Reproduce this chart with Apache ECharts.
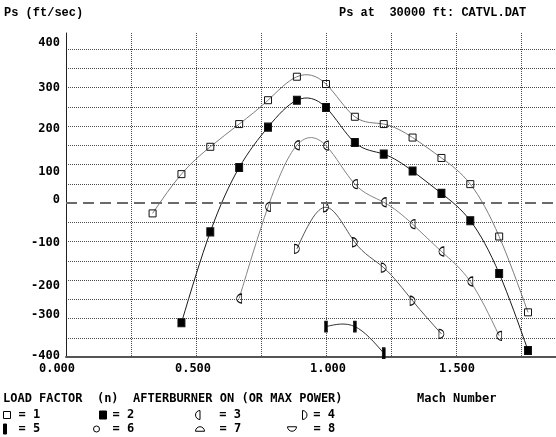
<!DOCTYPE html>
<html>
<head>
<meta charset="utf-8">
<script src="https://cdn.jsdelivr.net/npm/echarts@6/dist/echarts.min.js"></script>
<style>
  html, body { margin: 0; padding: 0; background: #fff; }
  #chart { width: 556px; height: 437px; }
</style>
</head>
<body>
<div id="chart"></div>
<script>
// Specific excess power (Ps) against Mach number, one curve per load factor n.
const loadFactors = ['1', '2', '3', '4', '5', '6', '7', '8'];

const machN1 = [0.333, 0.444, 0.555, 0.666, 0.777, 0.888, 1.000, 1.111, 1.222, 1.333, 1.444, 1.555, 1.666, 1.777];
const psN1   = [-27, 75, 146, 205, 267, 328, 309, 224, 205, 170, 117, 49, -87, -284];

const machN2 = [0.444, 0.555, 0.666, 0.777, 0.888, 1.000, 1.111, 1.222, 1.333, 1.444, 1.555, 1.666, 1.777];
const psN2   = [-311, -75, 92, 197, 267, 248, 157, 127, 83, 25, -46, -183, -383];

const machN3 = [0.666, 0.777, 0.888, 1.000, 1.111, 1.222, 1.333, 1.444, 1.555, 1.666];
const psN3   = [-248, -10, 150, 149, 49, 2, -55, -126, -204, -345];

const machN4 = [0.888, 1.000, 1.111, 1.222, 1.333, 1.444];
const psN4   = [-119, -11, -102, -168, -254, -340];

const machN5 = [1.000, 1.111, 1.222];
const psN5   = [-321, -321, -390];

// n = 6, 7, 8 have no attainable points in this envelope
const machEmpty = [];
const psEmpty = [];

const yLabelValues = [-400, -300, -200, -100, 0, 100, 200, 300, 400];
const xLabelValues = [0, 0.5, 1.0, 1.5];

const curves = [
  [machN1, psN1], [machN2, psN2], [machN3, psN3], [machN4, psN4],
  [machN5, psN5], [machEmpty, psEmpty], [machEmpty, psEmpty], [machEmpty, psEmpty]
];

const MONO = '"DejaVu Sans Mono", monospace';
const TYPE = '"Liberation Mono", "Courier New", monospace';
const HOLLOW = 'rgba(255,255,255,0)';

// marker look per load factor
const markStyle = {
  '1': { symbol: 'rect', size: [7, 7], fill: HOLLOW, line: '#7c7c7c' },
  '2': { symbol: 'rect', size: [7, 8], fill: '#000', line: '#1c1c1c' },
  '3': { symbol: 'path://M5,0 A5,5 0 0 0 5,10 Z', size: [5, 9], fill: HOLLOW, line: '#858585' },
  '4': { symbol: 'path://M0,0 A5,5 0 0 1 0,10 Z', size: [5, 9], fill: HOLLOW, line: '#555' },
  '5': { symbol: 'rect', size: [3, 10], fill: '#000', line: '#333' },
  '6': { symbol: 'circle', size: [6, 6], fill: HOLLOW, line: '#555' },
  '7': { symbol: 'path://M0,5 A5,5 0 0 1 10,5 Z', size: [9, 5], fill: HOLLOW, line: '#555' },
  '8': { symbol: 'path://M0,0 A5,5 0 0 0 10,0 Z', size: [9, 5], fill: HOLLOW, line: '#555' }
};

// legend key placement: icon left edge, row top, text start
const legendSpot = {
  '1': { x: 3, top: 409, textX: 18 },
  '2': { x: 99, top: 409, textX: 112 },
  '3': { x: 195, top: 409, textX: 219 },
  '4': { x: 302, top: 409, textX: 313 },
  '5': { x: 3, top: 423, textX: 18 },
  '6': { x: 93, top: 423, textX: 112 },
  '7': { x: 195, top: 423, textX: 219 },
  '8': { x: 287, top: 423, textX: 313 }
};

// text-row snapping of the tick labels (pixels, + = down / right)
const yLabelNudge = { '400': -6, '300': 0, '200': 3, '100': 7, '0': -3, '-100': 1, '-200': 6, '-300': -4, '-400': -1 };
const xLabelNudge = { '0': -9, '0.5': -3, '1': 2, '1.5': 1 };

function vPad(s) { return s > 0 ? [2 * s, 0, 0, 0] : [0, 0, -2 * s, 0]; }
function hPad(s) { return s > 0 ? [0, 0, 0, 2 * s] : [0, -2 * s, 0, 0]; }

const yRich = {};
yLabelValues.forEach((v, i) => {
  yRich['y' + i] = { padding: vPad(yLabelNudge[String(v)] || 0) };
});
const xRich = {};
xLabelValues.forEach((v, i) => {
  xRich['x' + i] = { padding: hPad(xLabelNudge[String(v)] || 0) };
});

// dotted horizontal grid, with the zero line left to the dashed reference
const hGridColors = [];
for (let v = -400; v <= 400; v += 50) hGridColors.push(v === 0 ? 'rgba(0,0,0,0)' : '#4a4a4a');

// Natural cubic spline through screen points (x increasing), as an SVG path of Bezier pieces
function splinePath(pts) {
  const n = pts.length;
  if (n < 2) return '';
  const x = pts.map(p => p[0]);
  const y = pts.map(p => p[1]);
  if (n === 2) return 'M' + x[0] + ',' + y[0] + 'L' + x[1] + ',' + y[1];
  const h = [];
  for (let i = 0; i < n - 1; i++) h.push(x[i + 1] - x[i]);
  // tridiagonal system for second derivatives, natural ends
  const M = new Array(n).fill(0);
  const a = [], b = [], c = [], d = [];
  for (let i = 1; i < n - 1; i++) {
    a.push(h[i - 1]);
    b.push(2 * (h[i - 1] + h[i]));
    c.push(h[i]);
    d.push(6 * ((y[i + 1] - y[i]) / h[i] - (y[i] - y[i - 1]) / h[i - 1]));
  }
  const m = a.length;
  for (let i = 1; i < m; i++) {
    const w = a[i] / b[i - 1];
    b[i] -= w * c[i - 1];
    d[i] -= w * d[i - 1];
  }
  const sol = new Array(m);
  sol[m - 1] = d[m - 1] / b[m - 1];
  for (let i = m - 2; i >= 0; i--) sol[i] = (d[i] - c[i] * sol[i + 1]) / b[i];
  for (let i = 0; i < m; i++) M[i + 1] = sol[i];
  const slope = new Array(n);
  for (let i = 0; i < n - 1; i++) {
    slope[i] = (y[i + 1] - y[i]) / h[i] - h[i] * (2 * M[i] + M[i + 1]) / 6;
  }
  slope[n - 1] = (y[n - 1] - y[n - 2]) / h[n - 2] + h[n - 2] * (M[n - 2] + 2 * M[n - 1]) / 6;
  let path = 'M' + x[0] + ',' + y[0];
  for (let i = 0; i < n - 1; i++) {
    const t = h[i] / 3;
    path += 'C' + (x[i] + t) + ',' + (y[i] + slope[i] * t) + ',' +
            (x[i + 1] - t) + ',' + (y[i + 1] - slope[i + 1] * t) + ',' +
            x[i + 1] + ',' + y[i + 1];
  }
  return path;
}

const labelFont = { fontFamily: MONO, fontWeight: 'bold', fontSize: 12, color: '#000' };

const chart = echarts.init(document.getElementById('chart'), null, { renderer: 'canvas' });

// smooth curve through every point of a load-factor series
function curveSeries(i) {
  const [mach, ps] = curves[i];
  const m = markStyle[loadFactors[i]];
  return {
    type: 'custom', name: 'curve ' + loadFactors[i],
    xAxisIndex: 1, yAxisIndex: 1, silent: true, z: 2,
    data: mach.map((x, k) => [x, ps[k]]),
    renderItem: (params, api) => {
      if (params.dataIndex !== 0) return null;
      const pts = mach.map((x, k) => api.coord([x, ps[k]]));
      return {
        type: 'path',
        shape: { pathData: splinePath(pts) },
        style: { fill: 'none', stroke: m.line, lineWidth: 1 }
      };
    }
  };
}

const option = {
  animation: false,
  backgroundColor: '#fff',
  title: [
    { text: 'Ps (ft/sec)', left: 4, top: 7, padding: 0,
      textStyle: { fontFamily: TYPE, fontWeight: 'bold', fontSize: 12, color: '#000' } },
    { text: 'Ps at  30000 ft: CATVL.DAT', left: 339, top: 7, padding: 0,
      textStyle: { fontFamily: TYPE, fontWeight: 'bold', fontSize: 12, color: '#000' } },
    { text: 'LOAD FACTOR  (n)  AFTERBURNER ON (OR MAX POWER)', left: 3, top: 393, padding: 0,
      textStyle: labelFont },
    { text: 'Mach Number', left: 417, top: 393, padding: 0, textStyle: labelFont }
  ],
  grid: [
    // frame for the vertical grid and the Ps axis line (reaches above the 400 line)
    { left: 66, top: 33, width: 520, height: 324, outerBoundsMode: 'none', containLabel: false },
    // data area, Ps from -400 to 400
    { left: 66, top: 49, width: 520, height: 308, outerBoundsMode: 'none', containLabel: false }
  ],
  xAxis: [
    { gridIndex: 0, type: 'value', min: 0, max: 2, interval: 0.25,
      axisLine: { show: false }, axisTick: { show: false }, axisLabel: { show: false },
      splitLine: { show: true, lineStyle: { color: '#4a4a4a', width: 1, type: [1, 1] } } },
    { gridIndex: 1, type: 'value', min: 0, max: 2, interval: 0.25,
      axisLine: { show: true, onZero: false, lineStyle: { color: '#555', width: 2 } },
      axisTick: { show: false }, splitLine: { show: false },
      axisLabel: {
        show: true, margin: 6, ...labelFont,
        formatter: v => {
          const i = xLabelValues.findIndex(t => Math.abs(t - v) < 1e-9);
          return i < 0 ? '' : '{x' + i + '|' + v.toFixed(3) + '}';
        },
        rich: xRich
      } }
  ],
  yAxis: [
    { gridIndex: 0, type: 'value', min: 0, max: 1,
      axisLine: { show: true, lineStyle: { color: '#222', width: 1 } },
      axisTick: { show: false }, axisLabel: { show: false }, splitLine: { show: false } },
    { gridIndex: 1, type: 'value', min: -400, max: 400, interval: 50,
      axisLine: { show: false }, axisTick: { show: false },
      splitLine: { show: true, lineStyle: { color: hGridColors, width: 1, type: [1, 1] } },
      axisLabel: {
        show: true, margin: 6, ...labelFont,
        formatter: v => {
          const i = yLabelValues.indexOf(v);
          return i < 0 ? '' : '{y' + i + '|' + v + '}';
        },
        rich: yRich
      } }
  ],
  legend: loadFactors.map(n => {
    const m = markStyle[n];
    const s = legendSpot[n];
    const pad = s.textX - (s.x + m.size[0] + 5);
    return {
      data: [n], left: s.x, top: s.top, padding: 0,
      selectedMode: false, icon: m.symbol,
      itemWidth: m.size[0], itemHeight: m.size[1],
      itemStyle: { color: m.fill, borderColor: '#000', borderWidth: 1 },
      formatter: '{t|= {name}}',
      textStyle: { ...labelFont, rich: { t: { ...labelFont, padding: [0, 0, 0, pad] } } }
    };
  }),
  series: [
    ...loadFactors.map((n, i) => curveSeries(i)),
    ...loadFactors.map((n, i) => {
      const m = markStyle[n];
      const [mach, ps] = curves[i];
      const s = {
        type: 'line', name: n, xAxisIndex: 1, yAxisIndex: 1,
        data: mach.map((x, k) => [x, ps[k]]),
        symbol: m.symbol, symbolSize: m.size, showAllSymbol: true,
        itemStyle: { color: m.fill, borderColor: '#111', borderWidth: 1 },
        lineStyle: { color: m.line, width: 1, opacity: 0 },
        emphasis: { disabled: true }, silent: true, z: 3
      };
      if (i === 0) {
        // dashed Ps = 0 reference
        s.markLine = {
          silent: true, symbol: 'none', label: { show: false }, emphasis: { disabled: true },
          lineStyle: { color: '#6a6a6a', width: 2, type: [11, 6], opacity: 1 },
          data: [{ yAxis: 0 }]
        };
      }
      return s;
    })
  ]
};

chart.setOption(option);
</script>
</body>
</html>
